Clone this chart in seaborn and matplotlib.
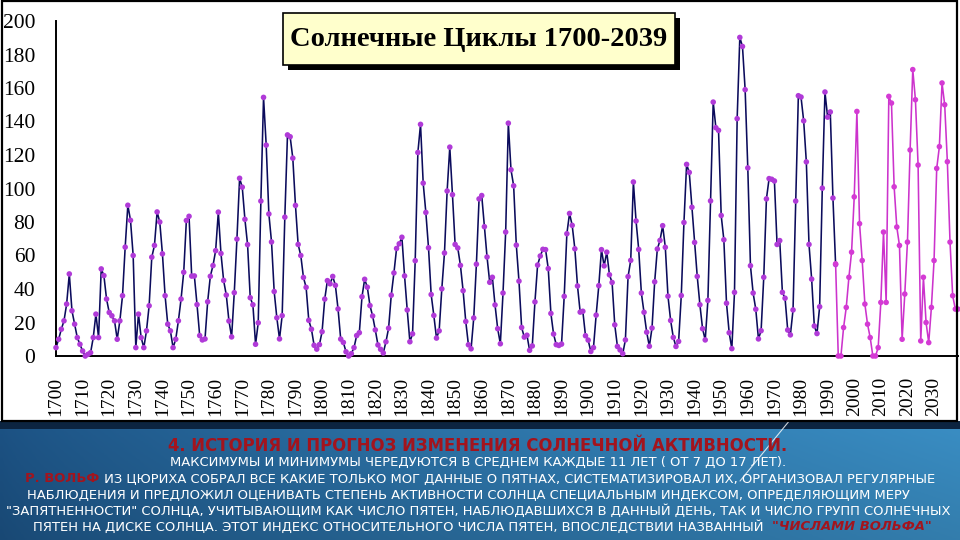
import numpy as np
import pandas as pd
import matplotlib
matplotlib.use("Agg")
import matplotlib.pyplot as plt
import seaborn as sns
from matplotlib.patches import Rectangle
from matplotlib.lines import Line2D

# ---------------- data ----------------
# 1700-1748
early_values = [5, 10, 16, 21, 31, 49, 27, 19, 11, 7,
                3, 0, 1, 2, 11, 25, 11, 52, 48, 34,
                26, 24, 21, 10, 21, 36, 65, 90, 81, 60,
                5, 25, 11, 5, 15, 30, 59, 66, 86, 80,
                61, 36, 19, 15, 5, 10, 21, 34, 50]
# 1749-1993
later_values = [80.9, 83.4, 47.7, 47.8, 30.7, 12.2, 9.6, 10.2, 32.4, 47.6,
                54.0, 62.9, 85.9, 61.2, 45.1, 36.4, 20.9, 11.4, 37.8, 69.8,
                106.1, 100.8, 81.6, 66.5, 34.8, 30.6, 7.0, 19.8, 92.5, 154.4,
                125.9, 84.8, 68.1, 38.5, 22.8, 10.2, 24.1, 82.9, 132.0, 130.9,
                118.1, 89.9, 66.6, 60.0, 46.9, 41.0, 21.3, 16.0, 6.4, 4.1,
                6.8, 14.5, 34.0, 45.0, 43.1, 47.5, 42.2, 28.1, 10.1, 8.1,
                2.5, 0.0, 1.4, 5.0, 12.2, 13.9, 35.4, 45.8, 41.1, 30.1,
                23.9, 15.6, 6.6, 4.0, 1.8, 8.5, 16.6, 36.3, 49.6, 64.2,
                67.0, 70.9, 47.8, 27.5, 8.5, 13.2, 56.9, 121.5, 138.3, 103.2,
                85.7, 64.6, 36.7, 24.2, 10.7, 15.0, 40.1, 61.5, 98.5, 124.7,
                96.3, 66.6, 64.5, 54.1, 39.0, 20.6, 6.7, 4.3, 22.7, 54.8,
                93.8, 95.8, 77.2, 59.1, 44.0, 47.0, 30.5, 16.3, 7.3, 37.6,
                74.0, 139.0, 111.2, 101.6, 66.2, 44.7, 17.0, 11.3, 12.4, 3.4,
                6.0, 32.3, 54.3, 59.7, 63.7, 63.5, 52.2, 25.4, 13.1, 6.8,
                6.3, 7.1, 35.6, 73.0, 85.1, 78.0, 64.0, 41.8, 26.2, 26.7,
                12.1, 9.5, 2.7, 5.0, 24.4, 42.0, 63.5, 53.8, 62.0, 48.5,
                43.9, 18.6, 5.7, 3.6, 1.4, 9.6, 47.4, 57.1, 103.9, 80.6,
                63.6, 37.6, 26.1, 14.2, 5.8, 16.7, 44.3, 63.9, 69.0, 77.8,
                64.9, 35.7, 21.2, 11.1, 5.7, 8.7, 36.1, 79.7, 114.4, 109.6,
                88.8, 67.8, 47.5, 30.6, 16.3, 9.6, 33.2, 92.6, 151.6, 136.3,
                134.7, 83.9, 69.4, 31.5, 13.9, 4.4, 38.0, 141.7, 190.2, 184.8,
                159.0, 112.3, 53.9, 37.6, 27.9, 10.2, 15.1, 47.0, 93.8, 105.9,
                105.5, 104.5, 66.6, 68.9, 38.0, 34.5, 15.5, 12.6, 27.5, 92.5,
                155.4, 154.6, 140.4, 115.9, 66.6, 45.9, 17.9, 13.4, 29.4, 100.2,
                157.6, 142.6, 145.7, 94.3, 54.6]
# forecast 1993-2039
forecast_values = [55, 0, 0, 17, 29, 47, 62, 95, 146, 79, 57,
                   31, 19, 11, 0, 0, 5, 32, 74, 32, 155,
                   151, 101, 77, 66, 10, 37, 68, 123, 171, 153,
                   114, 9, 47, 20, 8, 29, 57, 112, 125, 163,
                   150, 116, 68, 36, 28, 28]

hist_years = list(range(1700, 1994))
forecast_years = list(range(1993, 2040))
hist_values = early_values + later_values

x_ticks = list(range(1700, 2031, 10))
y_ticks = list(range(0, 201, 20))
x_tick_labels = [str(v) for v in x_ticks]
y_tick_labels = [str(v) for v in y_ticks]

title = "Солнечные Циклы 1700-2039"
line1 = "4. ИСТОРИЯ И ПРОГНОЗ ИЗМЕНЕНИЯ СОЛНЕЧНОЙ АКТИВНОСТИ."
line2 = "МАКСИМУМЫ И МИНИМУМЫ ЧЕРЕДУЮТСЯ В СРЕДНЕМ КАЖДЫЕ 11 ЛЕТ ( ОТ 7 ДО 17 ЛЕТ)."
line3a = "Р. ВОЛЬФ"
line3b = " ИЗ ЦЮРИХА СОБРАЛ ВСЕ КАКИЕ ТОЛЬКО МОГ ДАННЫЕ О ПЯТНАХ, СИСТЕМАТИЗИРОВАЛ ИХ, ОРГАНИЗОВАЛ РЕГУЛЯРНЫЕ"
line4 = "НАБЛЮДЕНИЯ И ПРЕДЛОЖИЛ ОЦЕНИВАТЬ СТЕПЕНЬ АКТИВНОСТИ СОЛНЦА СПЕЦИАЛЬНЫМ ИНДЕКСОМ, ОПРЕДЕЛЯЮЩИМ МЕРУ"
line5 = "\"ЗАПЯТНЕННОСТИ\" СОЛНЦА, УЧИТЫВАЮЩИМ КАК ЧИСЛО ПЯТЕН, НАБЛЮДАВШИХСЯ В ДАННЫЙ ДЕНЬ, ТАК И ЧИСЛО ГРУПП СОЛНЕЧНЫХ"
line6a = "ПЯТЕН НА ДИСКЕ СОЛНЦА. ЭТОТ ИНДЕКС ОТНОСИТЕЛЬНОГО ЧИСЛА ПЯТЕН, ВПОСЛЕДСТВИИ НАЗВАННЫЙ  "
line6b = "\"ЧИСЛАМИ ВОЛЬФА\""

df = pd.DataFrame({
    "year": hist_years + forecast_years,
    "value": hist_values + forecast_values,
    "series": ["hist"] * len(hist_years) + ["fc"] * len(forecast_years),
})

# ---------------- figure ----------------
sns.set_theme(style="white")
plt.rcParams["font.family"] = ["DejaVu Sans"]

W, H = 960, 540
fig = plt.figure(figsize=(9.6, 5.4), dpi=100)
fig.patch.set_facecolor("white")


def fx(px):
    return px / W


def fy(py):
    return 1 - py / H


# blue bottom panel with gradient
bg = fig.add_axes([0, 0, 1, fy(422)], zorder=-5)
nx, ny = 240, 60
gx = np.linspace(0, 1, nx)[None, :, None]
gy = np.linspace(0, 1, ny)[:, None, None]
left_c = np.array([28, 82, 132]) / 255
right_c = np.array([58, 142, 196]) / 255
img = left_c + (right_c - left_c) * gx ** 0.8
img = img * (1.0 - 0.12 * gy)
bg.imshow(np.clip(img, 0, 1), aspect="auto", extent=[0, 1, 0, 1], origin="upper")
bg.set_axis_off()

fig.patches.append(Rectangle((0, fy(429)), 1, fy(421) - fy(429), transform=fig.transFigure,
                             facecolor="#0c2440", edgecolor="none", zorder=1))
fig.patches.append(Rectangle((fx(1.5), fy(421)), fx(957) - fx(1.5), fy(1) - fy(421),
                             transform=fig.transFigure, facecolor="none",
                             edgecolor="black", lw=1.6, zorder=2))
fig.lines.append(Line2D([fx(790), fx(740)], [fy(420), fy(481)], transform=fig.transFigure,
                        color="white", lw=0.8, alpha=0.8, zorder=2))

# main axes
ax = fig.add_axes([fx(56), fy(356), fx(958) - fx(56), fy(21) - fy(356)])
ax.set_facecolor("none")
sns.lineplot(data=df, x="year", y="value", hue="series", units="series", estimator=None,
             palette={"hist": "#0b0b5c", "fc": "#cc33cc"}, linewidth=1.15,
             legend=False, sort=False, ax=ax)
sns.scatterplot(data=df, x="year", y="value", hue="series",
                palette={"hist": "#b03ad8", "fc": "#d43ad4"}, s=16, edgecolor="none",
                legend=False, ax=ax, zorder=3)
for c in ax.collections:
    c.set_clip_on(False)
ax.set_xlim(1700, 2039)
ax.set_ylim(0, 200)
ax.set_xticks(x_ticks)
ax.set_yticks(y_ticks)
ax.set_xticklabels(x_tick_labels, fontfamily="Liberation Serif", fontsize=14,
                   rotation=90, color="black")
ax.set_yticklabels(y_tick_labels, fontfamily="Liberation Serif", fontsize=15.5,
                   color="black")
ax.set_xlabel("")
ax.set_ylabel("")
for s in ["top", "right"]:
    ax.spines[s].set_visible(False)
for s in ["left", "bottom"]:
    ax.spines[s].set_color("black")
    ax.spines[s].set_linewidth(1.4)
ax.tick_params(axis="both", direction="out", length=6, width=1.2, color="black")
ax.tick_params(axis="x", pad=9)
ax.tick_params(axis="y", pad=9)

# title box
fig.patches.append(Rectangle((fx(288), fy(70)), fx(675) - fx(283), fy(13) - fy(65),
                             transform=fig.transFigure, facecolor="black",
                             edgecolor="none", zorder=3))
fig.patches.append(Rectangle((fx(283), fy(65)), fx(675) - fx(283), fy(13) - fy(65),
                             transform=fig.transFigure, facecolor="#ffffcc",
                             edgecolor="black", lw=1.2, zorder=4))
fig.text(fx(479), fy(40), title, family="Liberation Serif", weight="bold", fontsize=20.5,
         ha="center", va="center", color="black", zorder=5)

# bottom text
r = fig.canvas.get_renderer()
RED = "#a3141d"


def seg_line(segs, xc, ypx, size):
    texts, widths = [], []
    for s, kw in segs:
        t = fig.text(0, fy(ypx), s, va="center", ha="left", fontsize=size, zorder=6, **kw)
        texts.append(t)
        widths.append(t.get_window_extent(renderer=r).width)
    x = xc - sum(widths) / 2
    for t, w in zip(texts, widths):
        t.set_x(x / W)
        x += w
    return sum(widths)


# fit font size on the longest line
probe = fig.text(0, 0, line5, fontsize=10)
w10 = probe.get_window_extent(renderer=r).width
probe.remove()
body_size = 10 * 943 / w10
probe = fig.text(0, 0, line1, fontsize=10, weight="bold")
w10b = probe.get_window_extent(renderer=r).width
probe.remove()
head_size = 10 * 622 / w10b

white = dict(color="white")
seg_line([(line1, dict(color=RED, weight="bold"))], 478, 446, head_size)
seg_line([(line2, white)], 478, 462.5, body_size)
seg_line([(line3a, dict(color=RED, weight="bold")), (line3b, white)], 480, 479, body_size)
seg_line([(line4, white)], 468, 495, body_size)
seg_line([(line5, white)], 478, 511, body_size)
seg_line([(line6a, white), (line6b, dict(color=RED, weight="bold", style="italic"))],
         482, 527, body_size)

fig.savefig("out.png", dpi=100)
